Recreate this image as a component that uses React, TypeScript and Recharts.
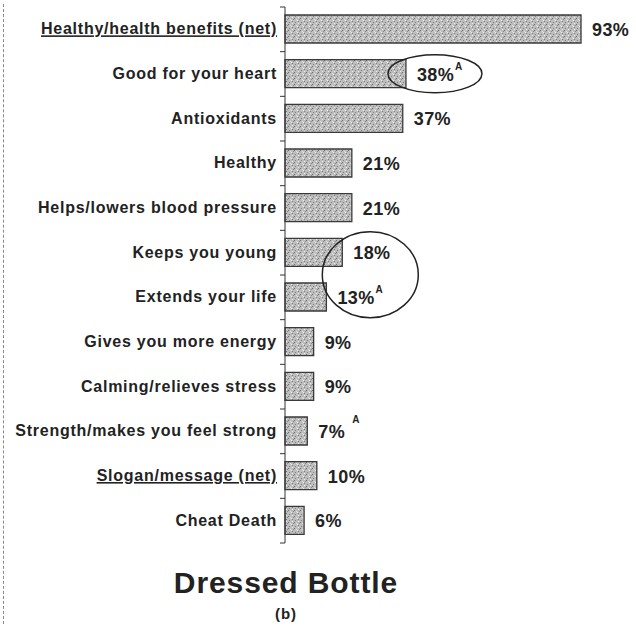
import { BarChart, Bar, XAxis, YAxis, LabelList } from 'recharts';

// Datos
const categories = [
  'Healthy/health benefits (net)',
  'Good for your heart',
  'Antioxidants',
  'Healthy',
  'Helps/lowers blood pressure',
  'Keeps you young',
  'Extends your life',
  'Gives you more energy',
  'Calming/relieves stress',
  'Strength/makes you feel strong',
  'Slogan/message (net)',
  'Cheat Death',
];
const values = [93, 38, 37, 21, 21, 18, 13, 9, 9, 7, 10, 6];
const superscripts = ['', 'A', '', '', '', '', 'A', '', '', 'A', '', ''];
const netRows = ['Healthy/health benefits (net)', 'Slogan/message (net)'];
// anotaciones a mano: óvalo en una barra, círculo que une dos barras
const ovalRows = ['Good for your heart'];
const pairRingRows = ['Keeps you young'];

const data = categories.map((name, i) => ({ name, value: values[i], sup: superscripts[i] }));

const CHART_W = 636;
const CHART_H = 560;
const MARGIN = { top: 7, right: 55, bottom: 17, left: 0 };
const AXIS_W = 285;
const BAND = (CHART_H - MARGIN.top - MARGIN.bottom) / categories.length;
const FONT = '"Liberation Sans", Arial, sans-serif';

function CategoryTick(props: any) {
  const { x, y, payload, index } = props;
  const axisX = x + 8;
  const isNet = netRows.includes(payload.value);
  const last = index === categories.length - 1;
  return (
    <g>
      <line x1={axisX - 5} x2={axisX} y1={y - BAND / 2} y2={y - BAND / 2} stroke="#333" />
      {last && <line x1={axisX - 5} x2={axisX} y1={y + BAND / 2} y2={y + BAND / 2} stroke="#333" />}
      <text
        x={x}
        y={y}
        dy={5}
        textAnchor="end"
        fontFamily={FONT}
        fontWeight="bold"
        fontSize={16}
        letterSpacing={0.75}
        fill="#222"
        textDecoration={isNet ? 'underline' : undefined}
      >
        {payload.value}
      </text>
    </g>
  );
}

function ValueLabel(props: any) {
  const { x, y, width, height, value, index } = props;
  const row = data[index];
  const tx = x + width + 11;
  const cy = y + height / 2;
  const wide = row.sup && row.value === 7;
  return (
    <g>
      {ovalRows.includes(row.name) && (
        <ellipse cx={x + width + 29} cy={cy} rx={47} ry={19} fill="none" stroke="#222" strokeWidth={1.5} />
      )}
      {pairRingRows.includes(row.name) && (
        <ellipse cx={x + width + 28} cy={cy + BAND / 2} rx={48} ry={43} fill="none" stroke="#222" strokeWidth={1.5} />
      )}
      <text x={tx} y={cy} dy={7} fontFamily={FONT} fontWeight="bold" fontSize={18} letterSpacing={0.4} fill="#222">
        {value}%
      </text>
      {row.sup && (
        <text
          x={tx + (value >= 10 ? 38 : 28) + (wide ? 6 : 0)}
          y={cy - (wide ? 8 : 4)}
          fontFamily={FONT}
          fontWeight="bold"
          fontSize={10}
          fill="#222"
        >
          {row.sup}
        </text>
      )}
    </g>
  );
}

export default function App() {
  return (
    <div style={{ position: 'absolute', left: 0, top: 0, width: 636, height: 628, background: '#fff', fontFamily: FONT }}>
      <div style={{ position: 'absolute', left: 3, top: 4, height: 620, borderLeft: '1px dashed #888' }} />
      <BarChart width={CHART_W} height={CHART_H} data={data} layout="vertical" margin={MARGIN}>
        <defs>
          <pattern id="stipple" width="6" height="6" patternUnits="userSpaceOnUse">
            <rect width="6" height="6" fill="#bdbdbd" />
            <rect x="0" y="0" width="1" height="1" fill="#6e6e6e" />
            <rect x="3" y="2" width="1" height="1" fill="#f0f0f0" />
            <rect x="1" y="4" width="1" height="1" fill="#808080" />
            <rect x="4" y="5" width="1" height="1" fill="#eeeeee" />
            <rect x="5" y="1" width="1" height="1" fill="#8a8a8a" />
            <rect x="2" y="1" width="1" height="1" fill="#e2e2e2" />
            <rect x="4" y="3" width="1" height="1" fill="#7a7a7a" />
          </pattern>
        </defs>
        <XAxis type="number" domain={[0, 93]} hide />
        <YAxis
          type="category"
          dataKey="name"
          width={AXIS_W}
          tick={<CategoryTick />}
          tickLine={false}
          tickSize={0}
          tickMargin={8}
          axisLine={{ stroke: '#333' }}
          interval={0}
        />
        <Bar dataKey="value" barSize={28} fill="url(#stipple)" stroke="#3a3a3a" strokeWidth={1.3} isAnimationActive={false}>
          <LabelList dataKey="value" content={<ValueLabel />} />
        </Bar>
      </BarChart>
      <div style={{ position: 'absolute', left: 0, width: 572, top: 566, textAlign: 'center', fontSize: 30, fontWeight: 'bold', color: '#222', letterSpacing: 0.9 }}>
        Dressed Bottle
      </div>
      <div style={{ position: 'absolute', left: 0, width: 572, top: 605, textAlign: 'center', fontSize: 15, fontWeight: 'bold', color: '#222', letterSpacing: 1 }}>
        (b)
      </div>
    </div>
  );
}
